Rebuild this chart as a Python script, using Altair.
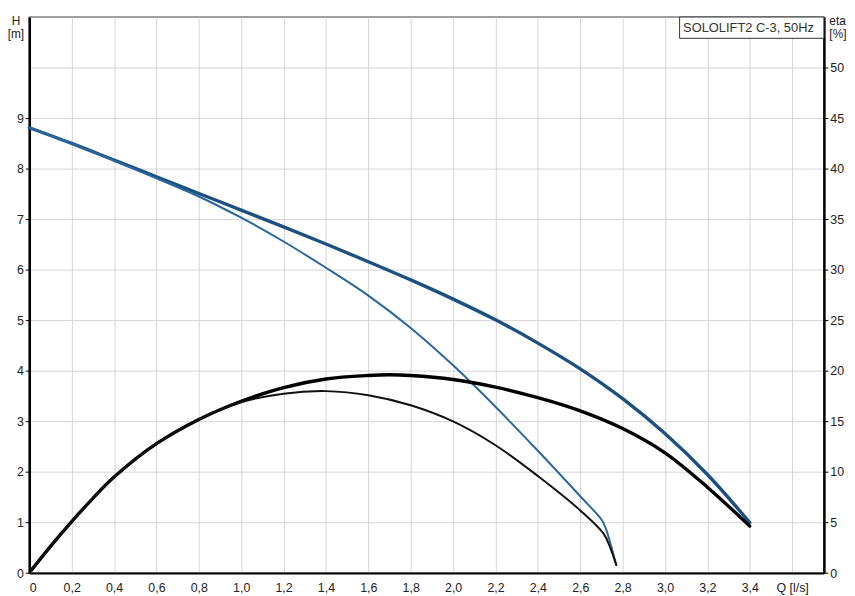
import altair as alt
import pandas as pd

# ---- data ----
# Q-H curve (thick blue, full)
q_h_full = [0.0, 0.2, 0.4, 0.6, 0.8, 1.0, 1.2, 1.4, 1.6, 1.8, 2.0, 2.2, 2.4, 2.6, 2.8, 3.0, 3.2, 3.4]
h_full = [8.81, 8.50, 8.17, 7.84, 7.51, 7.18, 6.85, 6.51, 6.16, 5.80, 5.42, 5.01, 4.55, 4.04, 3.45, 2.76, 1.95, 1.00]

# Q-H curve (thin blue)
q_h_part = [0.0, 0.2, 0.4, 0.6, 0.8, 1.0, 1.2, 1.4, 1.6, 1.8, 2.0, 2.2, 2.4, 2.6, 2.70, 2.72, 2.745, 2.77]
h_part = [8.81, 8.50, 8.16, 7.81, 7.45, 7.03, 6.56, 6.04, 5.49, 4.85, 4.11, 3.29, 2.42, 1.52, 1.06, 0.89, 0.55, 0.16]

# efficiency curve (thick black, full)
q_eta_full = [0.01, 0.1, 0.2, 0.3, 0.4, 0.6, 0.8, 1.0, 1.2, 1.4, 1.6, 1.7, 1.8, 2.0, 2.2, 2.4, 2.6, 2.8, 3.0, 3.2, 3.4]
eta_full = [0.3, 2.65, 5.1, 7.4, 9.5, 12.8, 15.2, 17.0, 18.35, 19.2, 19.55, 19.62, 19.55, 19.15, 18.4, 17.35, 16.05, 14.3, 11.9, 8.5, 4.65]

# efficiency curve (thin black)
q_eta_part = [0.01, 0.1, 0.2, 0.3, 0.4, 0.6, 0.8, 1.0, 1.2, 1.4, 1.6, 1.8, 2.0, 2.2, 2.4, 2.6, 2.71, 2.74, 2.77]
eta_part = [0.3, 2.65, 5.1, 7.4, 9.5, 12.8, 15.2, 16.9, 17.75, 18.0, 17.6, 16.6, 15.0, 12.65, 9.6, 6.2, 3.9, 2.6, 0.8]

x_ticks = [0, 0.2, 0.4, 0.6, 0.8, 1.0, 1.2, 1.4, 1.6, 1.8, 2.0, 2.2, 2.4, 2.6, 2.8, 3.0, 3.2, 3.4, 3.6]
h_ticks = [0, 1, 2, 3, 4, 5, 6, 7, 8, 9]
eta_ticks = [0, 5, 10, 15, 20, 25, 30, 35, 40, 45, 50]
title_text = "SOLOLIFT2 C-3, 50Hz"

df_h = pd.concat([
    pd.DataFrame({"q": q_h_full, "v": h_full, "s": "full"}),
    pd.DataFrame({"q": q_h_part, "v": h_part, "s": "part"}),
])
df_e = pd.concat([
    pd.DataFrame({"q": q_eta_full, "v": eta_full, "s": "full"}),
    pd.DataFrame({"q": q_eta_part, "v": eta_part, "s": "part"}),
])

FONT = "Liberation Sans"
GRID = "#d6d6d6"
LBL = "#222222"
NB = "\u00a0"

x_enc = alt.X(
    "q:Q",
    scale=alt.Scale(domain=[0, 3.75], nice=False, zero=False),
    axis=alt.Axis(
        values=x_ticks, grid=True, gridColor=GRID, gridWidth=1,
        domainColor="black", domainWidth=2, ticks=False,
        labelPadding=9, labelFontSize=12.5, labelColor=LBL, labelFont=FONT,
        labelExpr="datum.value > 3.5 ? '" + NB * 4 + "Q [l/s]' : (datum.value == 0 ? '0" + NB + "' : replace(format(datum.value, '.1f'), '.', ','))",
        title=None,
    ),
)

blue = alt.Chart(df_h).mark_line(interpolate="catmull-rom", strokeCap="round").encode(
    x=x_enc,
    y=alt.Y(
        "v:Q",
        scale=alt.Scale(domain=[0, 11], nice=False, zero=False),
        axis=alt.Axis(
            orient="left", values=h_ticks, grid=False,
            domainColor="black", domainWidth=2.5, tickColor="black", tickSize=4,
            labelPadding=2, labelFontSize=12.5, labelColor=LBL, labelFont=FONT,
            title=["H", "[m]"], titleAngle=0, titleAlign="center", titleBaseline="top",
            titleX=-14, titleY=-1, titleFontSize=12, titleFontWeight="normal",
            titleColor=LBL, titleFont=FONT, titleLineHeight=13,
        ),
    ),
    color=alt.Color("s:N", scale=alt.Scale(domain=["full", "part"], range=["#1d5080", "#2a679b"]), legend=None),
    strokeWidth=alt.StrokeWidth("s:N", scale=alt.Scale(domain=["full", "part"], range=[3.4, 2.0]), legend=None),
    detail="s:N",
)

black = alt.Chart(df_e).mark_line(interpolate="catmull-rom", strokeCap="round").encode(
    x=alt.X("q:Q", scale=alt.Scale(domain=[0, 3.75], nice=False, zero=False)),
    y=alt.Y(
        "v:Q",
        scale=alt.Scale(domain=[0, 55], nice=False, zero=False),
        axis=alt.Axis(
            orient="right", values=eta_ticks, grid=True, gridColor=GRID, gridWidth=1,
            domainColor="black", domainWidth=2.5, tickColor="black", tickSize=4,
            labelPadding=2, labelFontSize=12.5, labelColor=LBL, labelFont=FONT,
            title=["eta", "[%]"], titleAngle=0, titleAlign="left", titleBaseline="top",
            titleX=5, titleY=-1, titleFontSize=12, titleFontWeight="normal",
            titleColor=LBL, titleFont=FONT, titleLineHeight=13,
        ),
    ),
    color=alt.Color("s:N", scale=alt.Scale(domain=["full", "part"], range=["#000000", "#111111"]), legend=None),
    strokeWidth=alt.StrokeWidth("s:N", scale=alt.Scale(domain=["full", "part"], range=[3.4, 2.0]), legend=None),
    detail="s:N",
)

box = alt.Chart(pd.DataFrame({"t": [title_text]})).mark_rect(
    fill="white", stroke="#333333", strokeWidth=1
).encode(
    x=alt.value(656.5), x2=alt.value(802.2), y=alt.value(0), y2=alt.value(21.5)
)
label = alt.Chart(pd.DataFrame({"t": [title_text]})).mark_text(
    align="left", baseline="middle", font=FONT, fontSize=13, color="#333333"
).encode(
    x=alt.value(660), y=alt.value(11), text="t:N"
)

chart = (
    alt.layer(blue, black, box, label)
    .resolve_scale(y="independent", color="independent", strokeWidth="independent")
    .properties(
        width=802.2, height=561.4,
        autosize=alt.AutoSizeParams(type="none"),
        padding={"left": 21.5, "top": 6.3, "right": 23.3, "bottom": 22},
        background="white",
    )
    .configure_view(stroke="#808080", strokeWidth=1.5)
)

chart.save("out.html", embed_options={"renderer": "svg", "actions": False})
